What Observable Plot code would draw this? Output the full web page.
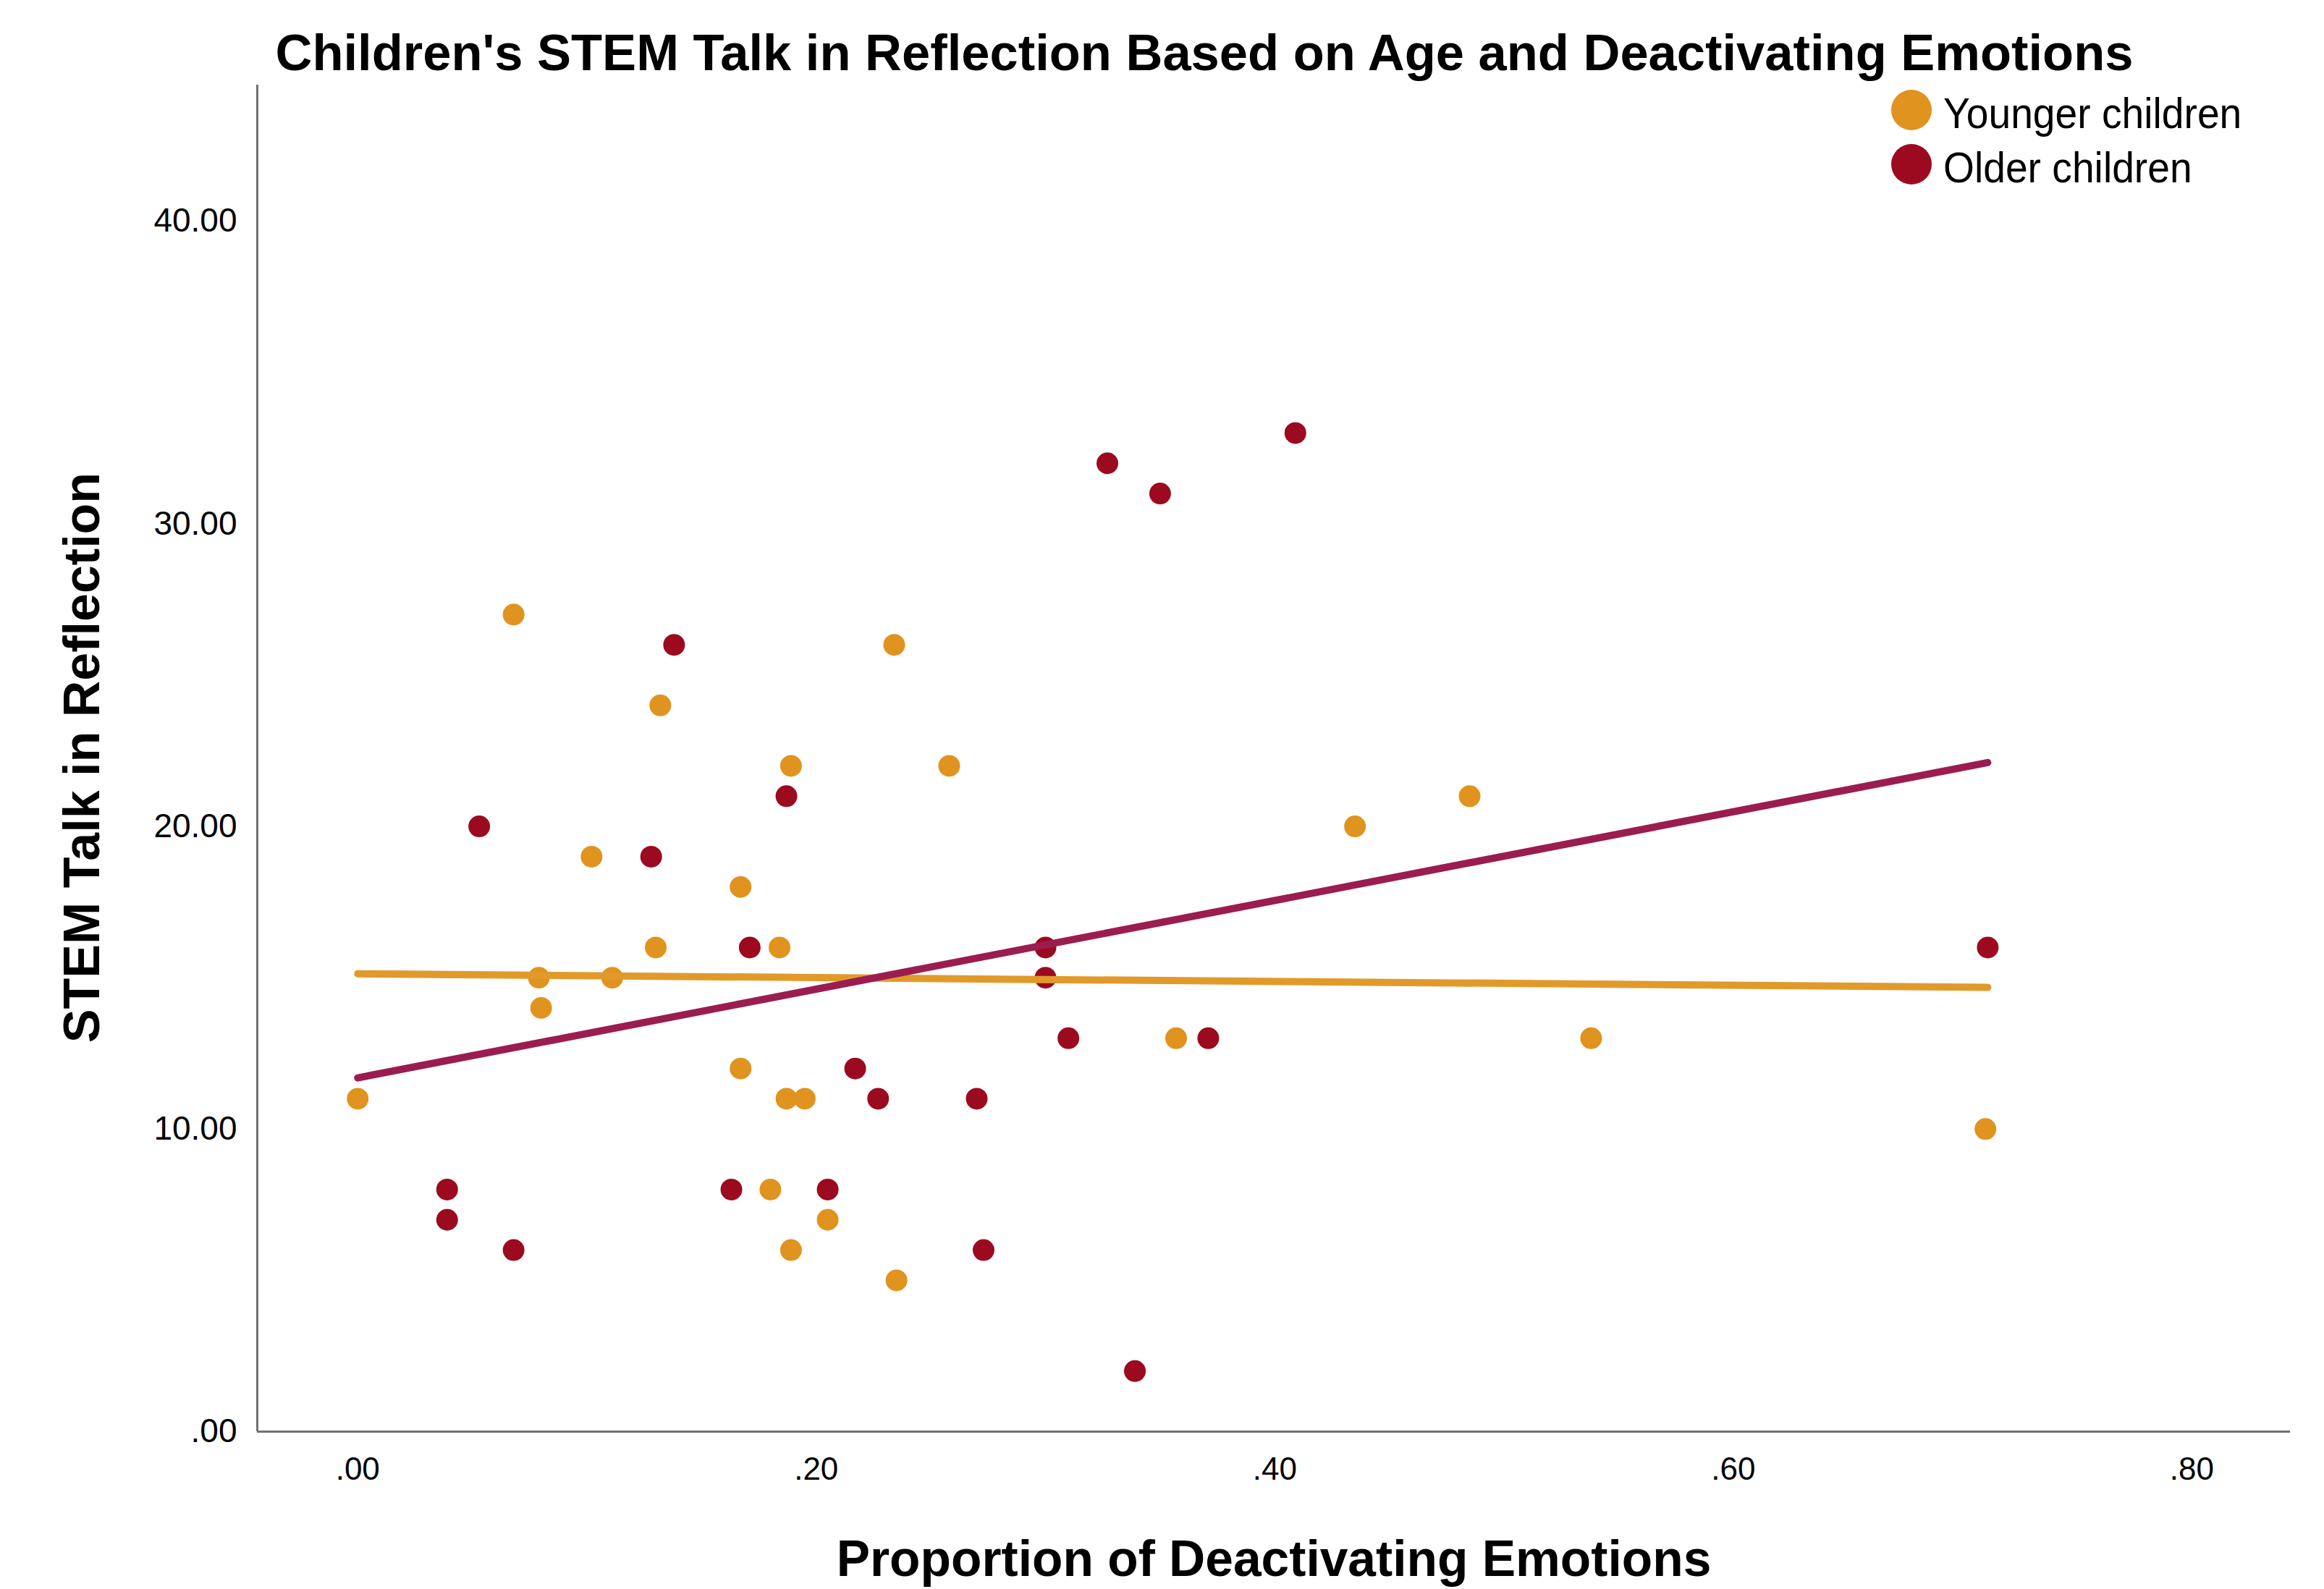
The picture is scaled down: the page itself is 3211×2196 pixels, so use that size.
<!DOCTYPE html>
<html>
<head>
<meta charset="utf-8">
<script src="https://cdn.jsdelivr.net/npm/d3@7"></script>
<script src="https://cdn.jsdelivr.net/npm/@observablehq/plot@0.6"></script>
<style>
  body { margin: 0; background: #fff; }
  #wrap { position: relative; width: 3211px; height: 2196px; overflow: hidden; background: #fff;
          font-family: "Liberation Sans", Arial, sans-serif; color: #000; }
  #wrap svg { position: absolute; left: 0; top: 0; }
  .txt { position: absolute; white-space: nowrap; line-height: 1; }
</style>
</head>
<body>
<div id="wrap"></div>
<script>
// ---- data ----
const groups = ["Younger children", "Older children"];
const dotColors = ["#E0931F", "#9C0A1F"];
const fitColors = ["#E19A2A", "#9B1D50"];

const youngerX = [0.000, 0.068, 0.132, 0.102, 0.130, 0.079, 0.111, 0.080, 0.167, 0.184, 0.189, 0.167, 0.187, 0.195, 0.180, 0.205, 0.189, 0.234, 0.235, 0.258, 0.357, 0.435, 0.485, 0.538, 0.710];
const youngerY = [11, 27, 24, 19, 16, 15, 15, 14, 18, 16, 22, 12, 11, 11, 8, 7, 6, 26, 5, 22, 13, 20, 21, 13, 10];

const olderX = [0.053, 0.039, 0.039, 0.068, 0.138, 0.128, 0.171, 0.187, 0.163, 0.205, 0.217, 0.227, 0.270, 0.273, 0.300, 0.300, 0.310, 0.327, 0.350, 0.339, 0.371, 0.409, 0.711];
const olderY = [20, 8, 7, 6, 26, 19, 16, 21, 8, 8, 12, 11, 11, 6, 16, 15, 13, 32, 31, 2, 13, 33, 16];

// fit lines (values at both ends)
const fitX = [0, 0.711];
const youngerFitY = [15.13, 14.68];
const olderFitY = [11.69, 22.11];

const xTicks = [0, 0.2, 0.4, 0.6, 0.8];
const yTicks = [0, 10, 20, 30, 40];
const xDomain = [-0.0438, 0.843];
const yDomain = [0, 44.5];

const titleText = "Children's STEM Talk in Reflection Based on Age and Deactivating Emotions";
const xLabel = "Proportion of Deactivating Emotions";
const yLabel = "STEM Talk in Reflection";

// ---- build tables ----
const points = [
  ...youngerX.map((x, i) => ({x, y: youngerY[i], group: groups[0]})),
  ...olderX.map((x, i) => ({x, y: olderY[i], group: groups[1]}))
];
const youngerFit = fitX.map((x, i) => ({x, y: youngerFitY[i]}));
const olderFit = fitX.map((x, i) => ({x, y: olderFitY[i]}));

const fmt = d => d3.format(".2f")(d).replace(/^0\./, ".");

const chart = Plot.plot({
  width: 3211,
  height: 2196,
  marginLeft: 355,
  marginRight: 47,
  marginTop: 117,
  marginBottom: 218,
  x: {domain: xDomain},
  y: {domain: yDomain},
  color: {domain: groups, range: dotColors},
  style: {fontFamily: "'Liberation Sans', Arial, sans-serif", fontSize: "44px", background: "white", color: "#000"},
  marks: [
    Plot.axisX({ticks: xTicks, tickFormat: fmt, tickSize: 0, tickPadding: 35, label: null, fontSize: 44}),
    Plot.axisY({ticks: yTicks, tickFormat: fmt, tickSize: 0, tickPadding: 28, label: null, fontSize: 46}),
    Plot.ruleX([xDomain[0]], {stroke: "#707070", strokeWidth: 3}),
    Plot.ruleY([yDomain[0]], {stroke: "#707070", strokeWidth: 3}),
    Plot.dot(points, {x: "x", y: "y", fill: "group", r: 15}),
    Plot.line(youngerFit, {x: "x", y: "y", stroke: fitColors[0], strokeWidth: 10}),
    Plot.line(olderFit, {x: "x", y: "y", stroke: fitColors[1], strokeWidth: 10})
  ]
});

const wrap = d3.select("#wrap");
wrap.node().appendChild(chart);

// title
wrap.append("div").attr("class", "txt")
  .style("font-size", "70.5px").style("font-weight", "bold")
  .style("left", "1664px").style("top", (98 - 0.8465 * 70.5) + "px")
  .style("transform", "translateX(-50%)")
  .text(titleText);

// x label
wrap.append("div").attr("class", "txt")
  .style("font-size", "69.5px").style("font-weight", "bold")
  .style("left", "1760px").style("top", (2179 - 0.8465 * 69.5) + "px")
  .style("transform", "translateX(-50%)")
  .text(xLabel);

// y label
wrap.append("div").attr("class", "txt")
  .style("font-size", "70px").style("font-weight", "bold")
  .style("left", "113px").style("top", "1047px")
  .style("transform", "translate(-50%, -50%) rotate(-90deg)")
  .text(yLabel);

// legend
groups.forEach((g, i) => {
  const cy = 152 + 75 * i;
  wrap.append("div")
    .style("position", "absolute")
    .style("left", (2641 - 28) + "px").style("top", (cy - 28) + "px")
    .style("width", "56px").style("height", "56px").style("border-radius", "50%")
    .style("background", dotColors[i]);
  wrap.append("div").attr("class", "txt")
    .style("font-size", "60px")
    .style("left", "2685px").style("top", (cy + 26 - 0.8465 * 60) + "px")
    .style("transform", "scaleX(0.92)").style("transform-origin", "left center")
    .text(g);
});
</script>
</body>
</html>
